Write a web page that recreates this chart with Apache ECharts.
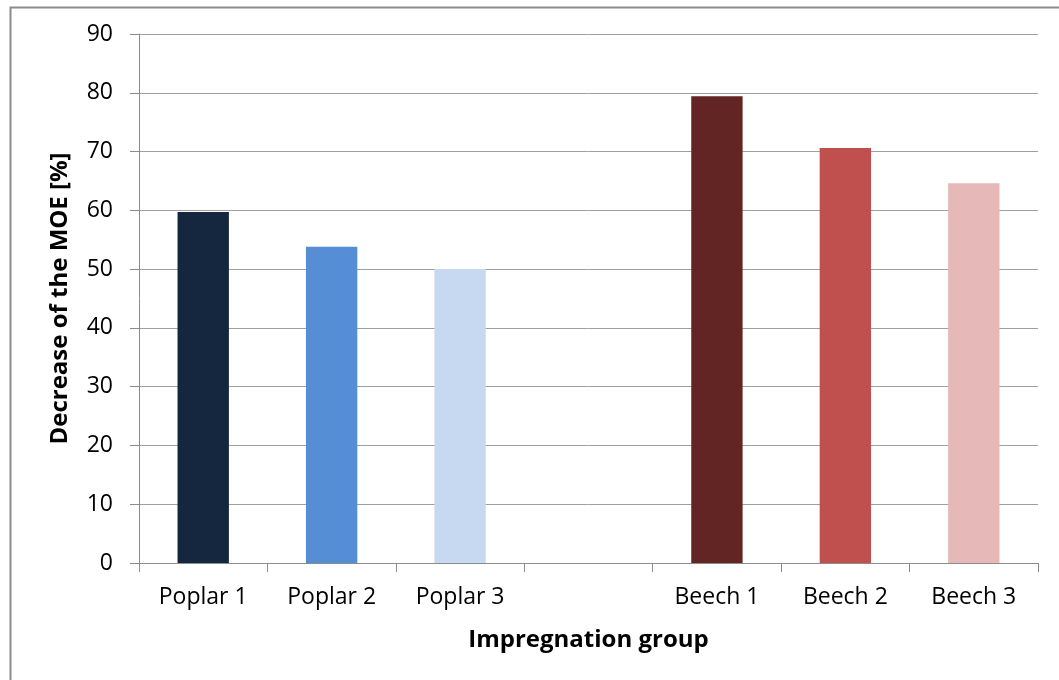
<!DOCTYPE html>
<html>
<head>
<meta charset="utf-8">
<script src="https://cdn.jsdelivr.net/npm/echarts@6/dist/echarts.min.js"></script>
<style>
  html, body { margin: 0; padding: 0; background: #fff; }
  #chart { width: 1059px; height: 680px; }
</style>
</head>
<body>
<div id="chart"></div>
<script>
// Impregnation groups (blank slot separates poplar from beech)
const categories = ['Poplar 1', 'Poplar 2', 'Poplar 3', '', 'Beech 1', 'Beech 2', 'Beech 3'];
// Decrease of the modulus of elasticity, percent
const moeDecrease = [59.7, 53.8, 50.0, null, 79.4, 70.6, 64.6];
const barColors = ['#15263f', '#558ed5', '#c6d9f1', '#ffffff', '#632523', '#c0504d', '#e6b9b8'];
const yTicks = { min: 0, max: 90, interval: 10 };

const FONT = '"Open Sans", "Noto Sans", sans-serif';

const chart = echarts.init(document.getElementById('chart'), null, { renderer: 'canvas' });

chart.setOption({
  animation: false,
  backgroundColor: '#ffffff',
  graphic: [{
    type: 'rect',
    left: 8, top: 5,
    shape: { width: 1070, height: 700 },
    style: { fill: 'none', stroke: '#8c8c8c', lineWidth: 2 },
    silent: true
  }],
  grid: { left: 139, right: 21, top: 34, bottom: 117, containLabel: false },
  xAxis: {
    type: 'category',
    data: categories,
    name: 'Impregnation group',
    nameLocation: 'middle',
    nameGap: 65,
    nameTextStyle: { fontFamily: FONT, fontWeight: 'bold', fontSize: 24, color: '#000' },
    axisLine: { lineStyle: { color: '#8c8c8c', width: 1 } },
    axisTick: { show: true, length: 9, alignWithLabel: false, lineStyle: { color: '#8c8c8c' } },
    axisLabel: { fontFamily: FONT, fontSize: 23, color: '#000', margin: 23, interval: 0 },
    splitLine: { show: false }
  },
  yAxis: {
    type: 'value',
    min: yTicks.min, max: yTicks.max, interval: yTicks.interval,
    name: 'Decrease of the MOE [%]',
    nameLocation: 'middle',
    nameGap: 67,
    nameRotate: 90,
    nameTextStyle: { fontFamily: FONT, fontWeight: 'bold', fontSize: 24, color: '#000' },
    axisLine: { show: true, lineStyle: { color: '#8c8c8c', width: 1 } },
    axisTick: { show: true, length: 9, lineStyle: { color: '#8c8c8c' } },
    axisLabel: { fontFamily: FONT, fontSize: 23, color: '#000', margin: 26 },
    splitLine: { show: true, lineStyle: { color: '#a0a0a0', width: 1 } }
  },
  series: [{
    type: 'bar',
    data: moeDecrease.map((v, i) => ({ value: v, itemStyle: { color: barColors[i] } })),
    barWidth: '40%'
  }]
});
</script>
</body>
</html>
